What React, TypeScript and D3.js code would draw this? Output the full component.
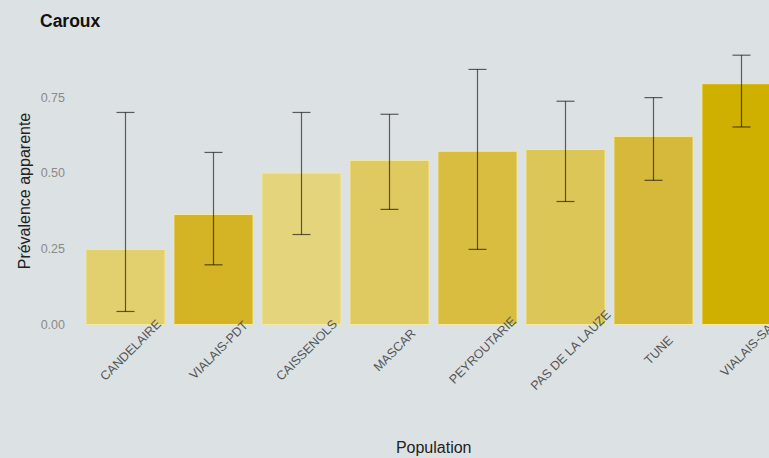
import React from "react";
import * as d3 from "d3";

const categories = ["CANDELAIRE", "VIALAIS-PDT", "CAISSENOLS", "MASCAR", "PEYROUTARIE", "PAS DE LA LAUZE", "TUNE", "VIALAIS-SA"];
const prevalence = [0.248, 0.363, 0.5, 0.542, 0.572, 0.578, 0.621, 0.795];
const lower = [0.043, 0.197, 0.297, 0.38, 0.248, 0.406, 0.476, 0.652];
const upper = [0.70, 0.568, 0.70, 0.694, 0.842, 0.737, 0.749, 0.889];
const yTicks = [0, 0.25, 0.5, 0.75];

const barColors = ["#e2cf6e", "#d4b324", "#e4d57c", "#dfca61", "#d8bd40", "#ddc658", "#d6b83a", "#cfaf00"];

const W = 769;
const H = 458;
const FONT = "'Liberation Sans', Arial, sans-serif";

export default function App() {
  const x = d3.scaleBand<string>().domain(categories).range([72.7, 794.3]).paddingInner(0.1).paddingOuter(0.15);
  const y = d3.scaleLinear().domain([0, 0.75]).range([324.5, 97.3]);
  const bw = x.bandwidth();
  const capW = 18;

  return (
    <div style={{ position: "fixed", left: 0, top: 0 }}>
      <svg width={W} height={H} style={{ display: "block" }}>
        <rect x={0} y={0} width={W} height={H} fill="#dce1e4" />
        <text x={40} y={27} fontFamily={FONT} fontSize={17.5} fontWeight="bold" fill="#111">Caroux</text>
        {yTicks.map((t) => (
          <text key={t} x={65} y={y(t)} dy="0.35em" textAnchor="end" fontFamily={FONT} fontSize={12.5} fill="#8a8a8a">
            {d3.format(".2f")(t)}
          </text>
        ))}
        {categories.map((c, i) => (
          <rect key={c} x={x(c)!} y={y(prevalence[i])} width={bw} height={y(0) - y(prevalence[i])}
            fill={barColors[i]} stroke="#f4eaa6" strokeWidth={1} />
        ))}
        {categories.map((c, i) => {
          const cx = x(c)! + bw / 2;
          return (
            <g key={c} stroke="#000" strokeOpacity={0.6} strokeWidth={1.2}>
              <line x1={cx} x2={cx} y1={y(upper[i])} y2={y(lower[i])} />
              <line x1={cx - capW / 2} x2={cx + capW / 2} y1={y(upper[i])} y2={y(upper[i])} />
              <line x1={cx - capW / 2} x2={cx + capW / 2} y1={y(lower[i])} y2={y(lower[i])} />
            </g>
          );
        })}
        {categories.map((c) => {
          const cx = x(c)! + bw / 2 + 5;
          return (
            <text key={c} transform={`translate(${cx},350) rotate(-45)`} textAnchor="middle" dy="0.35em"
              fontFamily={FONT} fontSize={12.5} fill="#555">{c}</text>
          );
        })}
        <text transform="translate(29.5,191) rotate(-90)" textAnchor="middle" fontFamily={FONT} fontSize={16} fill="#222">
          Prévalence apparente
        </text>
        <text x={433.7} y={453} textAnchor="middle" fontFamily={FONT} fontSize={16} fill="#222">Population</text>
      </svg>
    </div>
  );
}
